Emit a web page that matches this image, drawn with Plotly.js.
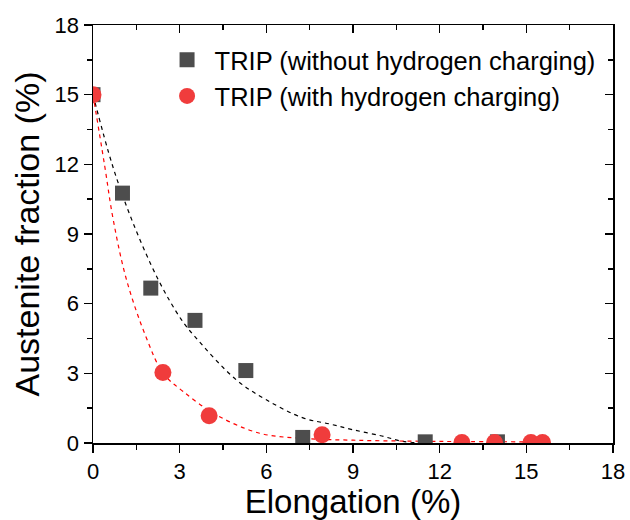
<!DOCTYPE html>
<html>
<head>
<meta charset="utf-8">
<script src="https://cdn.plot.ly/plotly-3.0.1.min.js"></script>
<style>html,body{margin:0;padding:0;background:#fff;}#chart{width:630px;height:520px;}</style>
</head>
<body>
<div id="chart"></div>
<script>
// Measured data
const seriesNames = ["TRIP (without hydrogen charging)", "TRIP (with hydrogen charging)"];
const xNoH = [0, 1.02, 2.0, 3.53, 5.29, 7.26, 11.5, 14.0];
const yNoH = [15, 10.76, 6.67, 5.28, 3.12, 0.24, 0.05, 0.05];
const xH = [0, 2.42, 4.02, 7.93, 12.77, 13.9, 15.16, 15.56];
const yH = [15, 3.04, 1.17, 0.36, 0.02, 0.02, 0.02, 0.02];
// Fitted curves
const xFitNoH = [0, 0.67, 1.34, 2.26, 3.06, 3.52, 4.96, 6.0, 7.27, 8.19, 9.0, 10.0, 10.73, 11.5];
const yFitNoH = [15, 11.97, 9.62, 7.03, 5.31, 4.59, 2.72, 1.86, 1.08, 0.82, 0.57, 0.3, 0.07, 0];
const xFitH = [0, 0.40, 0.70, 1.16, 1.85, 2.43, 3.12, 4.27, 5.77, 7.27, 9.0, 11.0, 13.0, 15.5];
const yFitH = [15, 11.97, 9.62, 7.03, 4.52, 3.0, 2.22, 1.21, 0.42, 0.2, 0.12, 0.08, 0.06, 0.05];
const xTicks = [0, 3, 6, 9, 12, 15, 18];
const yTicks = [0, 3, 6, 9, 12, 15, 18];

const FONT = "Liberation Sans, Arial, sans-serif";
const traces = [
  {x: xFitNoH, y: yFitNoH, mode: "lines", line: {color: "#000000", width: 1.2, dash: "4px,4px", shape: "spline"}, showlegend: false, hoverinfo: "skip"},
  {x: xFitH, y: yFitH, mode: "lines", line: {color: "#ff0000", width: 1.2, dash: "4px,4px", shape: "spline"}, showlegend: false, hoverinfo: "skip"},
  {x: xNoH, y: yNoH, mode: "markers", name: seriesNames[0], marker: {symbol: "square", size: 15, color: "#4d4d4d"}},
  {x: xH, y: yH, mode: "markers", name: seriesNames[1], marker: {symbol: "circle", size: 17, color: "#f03c3c"}},
  {x: [], y: [], xaxis: "x2", yaxis: "y2", showlegend: false, hoverinfo: "skip"}
];

const axisBase = {
  range: [0, 18], showgrid: false, zeroline: false, showline: true,
  linecolor: "#000", linewidth: 1.5, tickcolor: "#000", tickwidth: 1.5,
  tickfont: {family: FONT, size: 22, color: "#000"}
};

const layout = {
  width: 630, height: 520,
  margin: {l: 93, r: 17, t: 25, b: 77},
  paper_bgcolor: "#fff", plot_bgcolor: "#fff",
  font: {family: FONT, color: "#000"},
  xaxis: Object.assign({}, axisBase, {
    tickvals: xTicks, ticktext: xTicks.map(String), ticks: "outside", ticklen: 8,
    minor: {dtick: 1.5, tick0: 0, ticks: "outside", ticklen: 5, tickcolor: "#000", tickwidth: 1.5},
    title: {text: "Elongation (%)", font: {family: FONT, size: 33, color: "#000"}, standoff: 21}
  }),
  yaxis: Object.assign({}, axisBase, {
    tickvals: yTicks, ticktext: yTicks.map(String), ticks: "outside", ticklen: 8,
    minor: {dtick: 1.5, tick0: 0, ticks: "outside", ticklen: 5, tickcolor: "#000", tickwidth: 1.5},
    title: {text: "Austenite fraction (%)", font: {family: FONT, size: 34, color: "#000"}, standoff: 4}
  }),
  xaxis2: Object.assign({}, axisBase, {
    overlaying: "x", side: "top", anchor: "y2", tickvals: xTicks, ticks: "inside", ticklen: 8,
    showticklabels: false,
    minor: {dtick: 1.5, tick0: 0, ticks: "inside", ticklen: 5, tickcolor: "#000", tickwidth: 1.5}
  }),
  yaxis2: Object.assign({}, axisBase, {
    overlaying: "y", side: "right", anchor: "x2", tickvals: yTicks, ticks: "inside", ticklen: 8,
    showticklabels: false,
    minor: {dtick: 1.5, tick0: 0, ticks: "inside", ticklen: 5, tickcolor: "#000", tickwidth: 1.5}
  }),
  legend: {
    x: 0.128, y: 0.972, xanchor: "left", yanchor: "top",
    bgcolor: "rgba(0,0,0,0)", borderwidth: 0,
    font: {family: FONT, size: 25.5, color: "#000"},
    itemwidth: 45
  },
  showlegend: true
};

Plotly.newPlot("chart", traces, layout, {staticPlot: true});
</script>
</body>
</html>
